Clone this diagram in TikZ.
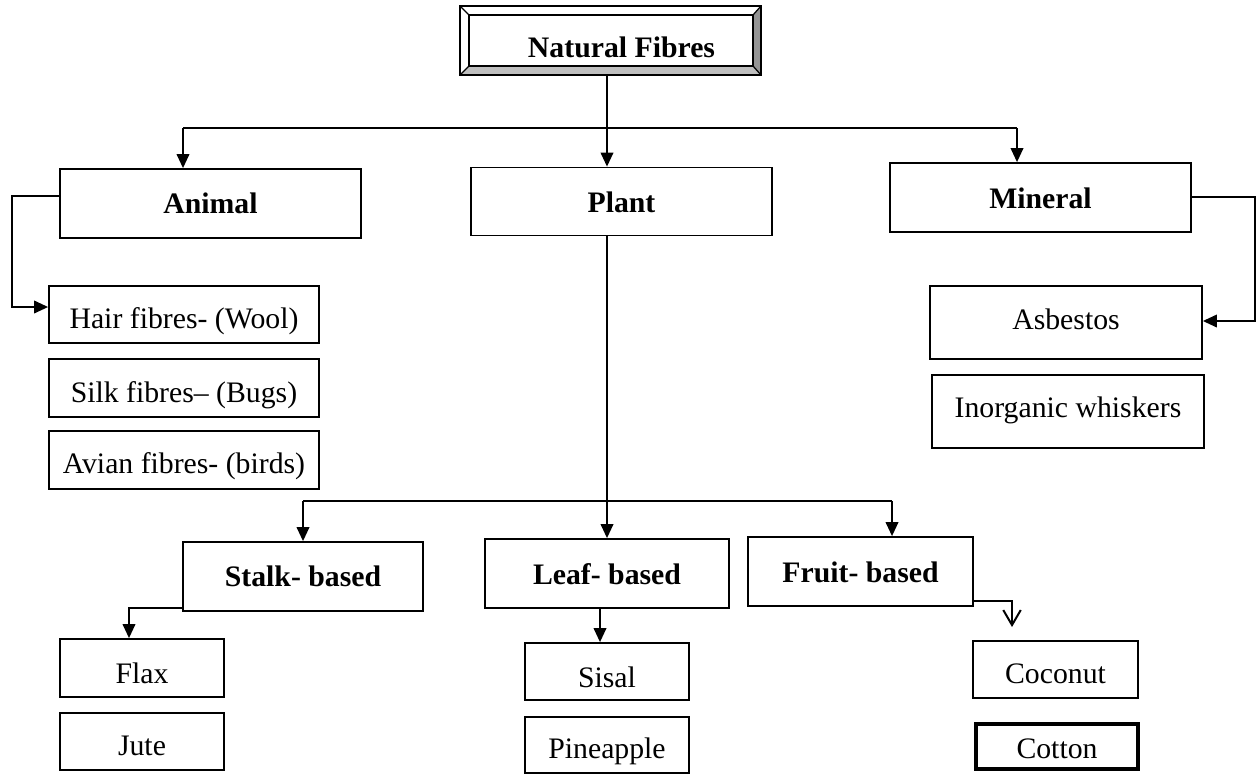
\documentclass[tikz,border=0pt]{standalone}
\usepackage{fontspec}
\setmainfont{Liberation Serif}
\usetikzlibrary{arrows.meta}
\tikzset{
  box/.style={draw, line width=0.7pt, inner sep=0pt, font=\fontsize{11.9}{14}\selectfont, text depth=0pt},
  hd/.style={font=\fontsize{11.9}{14}\selectfont\bfseries},
  wh/.style n args={2}{minimum width=#1*0.4pt, minimum height=#2*0.4pt},
  bl/.style={text height=#1*0.8pt},
  conn/.style={line width=0.8pt},
  arr/.style={conn, -{Triangle[length=5.6pt,width=5pt]}},
}
\begin{document}
\begin{tikzpicture}[x=0.4pt,y=-0.4pt]
\useasboundingbox (0,0) rectangle (1257,774);

% top bevelled box
\fill[black!42] (753,15) -- (761,6) -- (761,75) -- (753,66) -- cycle;
\fill[black!25] (469,66) -- (753,66) -- (761,75) -- (460,75) -- cycle;
\draw[line width=0.9pt] (460,6) rectangle (761,75);
\draw[line width=0.7pt] (469,15) rectangle (753,66);
\draw[line width=0.5pt] (460,6) -- (469,15) (761,6) -- (753,15) (761,75) -- (753,66) (460,75) -- (469,66);
\node[box, draw=none, hd, wh={301}{69}, bl=16.5] (nat) at (610.5,40.5) {\hspace*{8.8pt}Natural Fibres};

% level 1
\node[box, hd, wh={301}{69}, bl=10] (animal) at (210.5,203.5) {Animal};
\node[box, hd, wh={301}{68}, bl=10.5] (plant) at (621.5,201.5) {Plant};
\node[box, hd, wh={301}{69}, bl=10.5] (mineral) at (1040.5,197.5) {Mineral};

% animal children
\node[box, wh={270}{57}, bl=13.5] (hair) at (184,314.5) {Hair fibres- (Wool)};
\node[box, wh={270}{58}, bl=14] (silk) at (184,388) {Silk fibres– (Bugs)};
\node[box, wh={270}{58}, bl=13] (avian) at (184,460) {Avian fibres- (birds)};

% mineral children
\node[box, wh={272}{73}, bl=6.5] (asb) at (1066,322.5) {Asbestos};
\node[box, wh={272}{73}, bl=5.5] (inorg) at (1068,411.5) {Inorganic whiskers};

% level 2
\node[box, hd, wh={240}{69}, bl=9.5] (stalk) at (303,576.5) {Stalk- based};
\node[box, hd, wh={244}{69}, bl=10.5] (leaf) at (607,573.5) {Leaf- based};
\node[box, hd, wh={225}{69}, bl=10.5] (fruit) at (860.5,571.5) {Fruit- based};

% level 3
\node[box, wh={164}{58}, bl=15] (flax) at (142,668) {Flax};
\node[box, wh={164}{57}, bl=13.5] (jute) at (142,741.5) {Jute};
\node[box, wh={164}{57}, bl=15.5] (sisal) at (607,671.5) {Sisal};
\node[box, wh={164}{56}, bl=13] (pine) at (607,745) {Pineapple};
\node[box, wh={165}{57}, bl=13.5] (coconut) at (1055.5,669.5) {Coconut};
\node[box, line width=1.3pt, wh={162}{45}, bl=11.5] (cotton) at (1057,746.5) {Cotton};

% connectors, top level
\coordinate (vx) at (607,128);
\coordinate (bl1) at (183,128);
\coordinate (br1) at (1017,128);
\draw[arr] (nat.south -| vx) -- (plant.north -| vx);
\draw[conn] (bl1) -- (br1);
\draw[arr] (bl1) -- (bl1 |- animal.north);
\draw[arr] (br1) -- (br1 |- mineral.north);

% animal connector
\coordinate (aL) at (12,196);
\coordinate (aD) at (12,307);
\draw[arr] (animal.west |- aL) -- (aL) -- (aD) -- (hair.west |- aD);

% mineral connector
\coordinate (mR) at (1255,197);
\coordinate (mD) at (1255,321);
\draw[arr] (mineral.east |- mR) -- (mR) -- (mD) -- (asb.east |- mD);

% plant connectors
\coordinate (pv) at (607,501);
\coordinate (b2l) at (303,501);
\coordinate (b2r) at (892,501);
\draw[arr] (plant.south -| pv) -- (leaf.north -| pv);
\draw[conn] (b2l) -- (b2r);
\draw[arr] (b2l) -- (b2l |- stalk.north);
\draw[arr] (b2r) -- (b2r |- fruit.north);

% stalk connector
\coordinate (sL) at (129,608);
\draw[arr] (stalk.west |- sL) -- (sL) -- (sL |- flax.north);

% leaf connector
\coordinate (lx) at (600,620);
\draw[arr] (leaf.south -| lx) -- (sisal.north -| lx);

% fruit connector
\coordinate (fR) at (1012,601);
\coordinate (fE) at (1012,627);
\draw[conn, -{Straight Barb[length=6pt,width=7pt]}] (fruit.east |- fR) -- (fR) -- (fE);
\end{tikzpicture}
\end{document}
